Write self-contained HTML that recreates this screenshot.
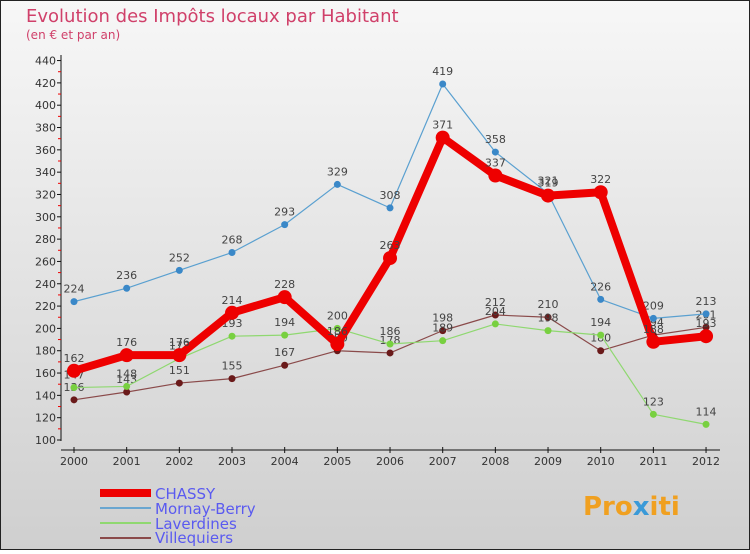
<!DOCTYPE html>
<html><head><meta charset="utf-8"><style>
body{margin:0;}
#wrap{width:750px;height:550px;position:relative;font-family:"DejaVu Sans","Liberation Sans",sans-serif;}
</style></head><body>
<div id="wrap">
<svg id="chart" width="750" height="550" xmlns="http://www.w3.org/2000/svg">
<defs><linearGradient id="bg" x1="0" y1="0" x2="0" y2="1"><stop offset="0" stop-color="#f7f7f7"/><stop offset="1" stop-color="#cfcfcf"/></linearGradient></defs>
<rect x="0.5" y="0.5" width="749" height="549" fill="url(#bg)" stroke="#222"/>
<text x="26" y="22" font-size="18" fill="#d0406a">Evolution des Impôts locaux par Habitant</text>
<text x="26" y="39" font-size="12" fill="#d0406a">(en € et par an)</text>
<g id="axes"></g><g id="series"></g>
<g>
<rect x="100" y="489" width="51" height="8" fill="#e00"/>
<text x="155" y="499" font-size="15" fill="#5a5af0">CHASSY</text>
<rect x="100" y="507" width="51" height="2" fill="#6aa6d0"/>
<text x="155" y="514" font-size="15" fill="#5a5af0">Mornay-Berry</text>
<rect x="100" y="522" width="51" height="2" fill="#8fd870"/>
<text x="155" y="529" font-size="15" fill="#5a5af0">Laverdines</text>
<rect x="100" y="537" width="51" height="2" fill="#8a4a4a"/>
<text x="155" y="543" font-size="15" fill="#5a5af0">Villequiers</text>
</g>
<text x="583" y="515" font-size="26" font-weight="bold" fill="#f0a020">Pro<tspan fill="#3a9ad8">x</tspan>iti</text>
</svg>
</div>
<script>
const years=[2000,2001,2002,2003,2004,2005,2006,2007,2008,2009,2010,2011,2012];
const yTicks=[100,120,140,160,180,200,220,240,260,280,300,320,340,360,380,400,420,440];
const chassy=[162,176,176,214,228,186,263,371,337,319,322,188,193];
const mornay=[224,236,252,268,293,329,308,419,358,321,226,209,213];
const laverdines=[147,148,173,193,194,200,186,189,204,198,194,123,114];
const villequiers=[136,143,151,155,167,180,178,198,212,210,180,194,201];
const NS="http://www.w3.org/2000/svg";
function xS(i){return 74+i*52.67;}
function yS(v){return 440-(v-100)*1.116;}
function mk(tag,attrs,parent){const e=document.createElementNS(NS,tag);for(const k in attrs)e.setAttribute(k,attrs[k]);parent.appendChild(e);return e;}
const ax=document.getElementById('axes');
const yl=mk('line',{x1:61,y1:55,x2:61,y2:441,stroke:'#111'},ax);


const xl=mk('line',{x1:61,y1:450,x2:720,y2:450,stroke:'#111'},ax);


yTicks.forEach((v,i)=>{
  mk('line',{x1:57,y1:yS(v),x2:61,y2:yS(v),stroke:'#111'},ax);
  if(i<yTicks.length-1)mk('line',{x1:58,y1:yS(v+10),x2:61,y2:yS(v+10),stroke:'#e00'},ax);
  const t=mk('text',{x:56,y:yS(v)+4,'font-size':11,'text-anchor':'end',fill:'#333'},ax);
  t.textContent=v;
  
  
});
years.forEach((y,i)=>{
  mk('line',{x1:xS(i),y1:447,x2:xS(i),y2:453,stroke:'#111'},ax);
  const t=mk('text',{x:xS(i),y:465,'font-size':11,'text-anchor':'middle',fill:'#333'},ax);
  t.textContent=y;
  
  
});
const sg=document.getElementById('series');
function draw(vals,color,w,r,name,dot){
  const g=mk('g',{},sg);
  
  
  const p=mk('polyline',{points:vals.map((v,i)=>xS(i)+','+yS(v)).join(' '),fill:'none',stroke:color,'stroke-width':w,'stroke-linejoin':'round'},g);
  
  
  vals.forEach((v,i)=>{
    const c=mk('circle',{cx:xS(i),cy:yS(v),r:r,fill:dot},g);
    
    
    const t=mk('text',{x:xS(i),y:yS(v)-9,'font-size':11,'text-anchor':'middle',fill:'#444'},g);
    t.textContent=v;
    
    
  });
}
draw(villequiers,'#8a4a4a',1.2,3.5,'villequiers','#6a1a1a');
draw(laverdines,'#8fd870',1.2,3.5,'laverdines','#78d040');
draw(mornay,'#5aa0d0',1.2,3.5,'mornay-berry','#3a88c8');
draw(chassy,'#e00',8,7,'chassy','#e00');
</script>
</body></html>
